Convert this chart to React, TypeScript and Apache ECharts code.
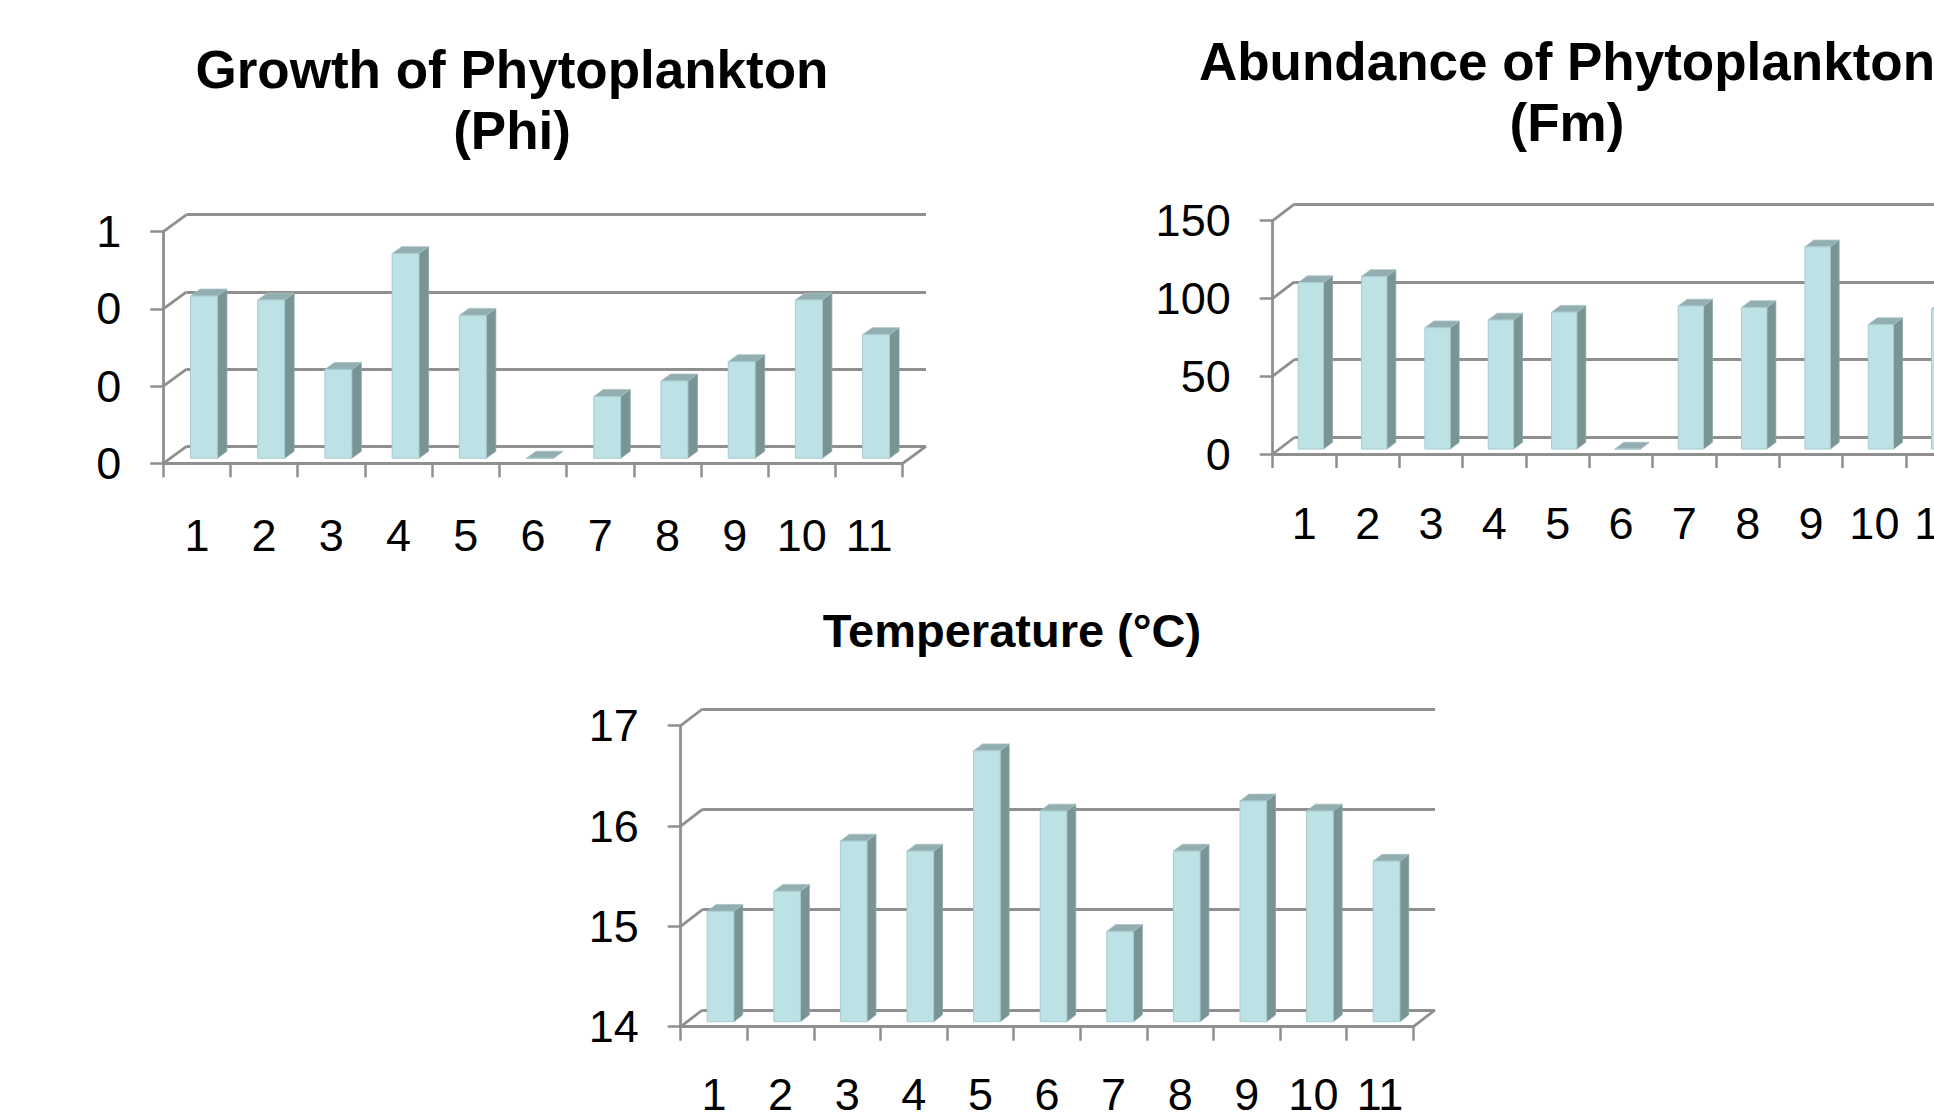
import React, { useEffect, useRef } from "react";
import * as echarts from "echarts";

const categories = ["1", "2", "3", "4", "5", "6", "7", "8", "9", "10", "11"];

const growthValues = [0.42, 0.41, 0.23, 0.53, 0.37, 0, 0.16, 0.2, 0.25, 0.41, 0.32];
const abundanceValues = [107, 111, 78, 83, 88, 0, 92, 91, 130, 80, 90];
const temperatureValues = [15.1, 15.3, 15.8, 15.7, 16.7, 16.1, 14.9, 15.7, 16.2, 16.1, 15.6];

const growthTicks = [0, 0.2, 0.4, 0.6];
const abundanceTicks = [0, 50, 100, 150];
const temperatureTicks = [14, 15, 16, 17];

const growthTitle = "Growth of Phytoplankton\n(Phi)";
const abundanceTitle = "Abundance of Phytoplankton\n(Fm)";
const temperatureTitle = "Temperature (°C)";

const FONT = "'Liberation Sans', Arial, Helvetica, sans-serif";
const GRID_COLOR = "#8f8f8f";
const FRONT = "#bde2e6";
const SIDE = "#7a9496";
const TOP = "#93aeb1";

const CANVAS_W = 2120;
const CANVAS_H = 1117;

type ChartCfg = {
  values: number[];
  ticks: number[];
  title: string;
  titleX: number;
  titleY: number;
  titleSize: number;
  left: number;
  top: number;
  width: number;
  height: number;
  dx: number;
  dy: number;
  labelMargin: number;
  fmt: (v: number) => string;
};

const charts: ChartCfg[] = [
  {
    values: growthValues,
    ticks: growthTicks,
    title: growthTitle,
    titleX: 512,
    titleY: 100,
    titleSize: 53,
    left: 163.3,
    top: 231.7,
    width: 739.4,
    height: 231.6,
    dx: 23.3,
    dy: -17,
    labelMargin: 50,
    fmt: (v: number) => v.toFixed(0),
  },
  {
    values: abundanceValues,
    ticks: abundanceTicks,
    title: abundanceTitle,
    titleX: 1567,
    titleY: 92,
    titleSize: 53,
    left: 1272.7,
    top: 220.7,
    width: 696.7,
    height: 233.3,
    dx: 21.7,
    dy: -16.5,
    labelMargin: 47,
    fmt: (v: number) => String(v),
  },
  {
    values: temperatureValues,
    ticks: temperatureTicks,
    title: temperatureTitle,
    titleX: 1012,
    titleY: 630,
    titleSize: 47,
    left: 680.7,
    top: 725.7,
    width: 732.6,
    height: 301,
    dx: 21.7,
    dy: -16.7,
    labelMargin: 45,
    fmt: (v: number) => String(v),
  },
];

function buildOption() {
  const grid: any[] = [];
  const xAxis: any[] = [];
  const yAxis: any[] = [];
  const series: any[] = [];
  const graphic: any[] = [];

  charts.forEach((c, k) => {
    const min = c.ticks[0];
    const max = c.ticks[c.ticks.length - 1];
    const interval = c.ticks[1] - c.ticks[0];
    const fi = 2 * k;
    const bi = 2 * k + 1;

    grid.push({ left: c.left, top: c.top, width: c.width, height: c.height, containLabel: false });
    grid.push({ left: c.left + c.dx, top: c.top + c.dy, width: c.width, height: c.height, containLabel: false });

    xAxis.push({
      type: "category",
      gridIndex: fi,
      data: categories,
      boundaryGap: true,
      axisLine: { show: true, lineStyle: { color: GRID_COLOR, width: 2.8 } },
      axisTick: { show: true, length: 14, interval: 0, lineStyle: { color: GRID_COLOR, width: 2.5 } },
      axisLabel: { interval: 0, margin: c.labelMargin, fontSize: 45, color: "#000", fontFamily: FONT },
      splitLine: { show: false },
    });
    xAxis.push({ type: "category", gridIndex: bi, data: categories, show: false });

    yAxis.push({
      type: "value",
      gridIndex: fi,
      min,
      max,
      interval,
      axisLine: { show: true, lineStyle: { color: GRID_COLOR, width: 2.8 } },
      axisTick: { show: true, length: 13, lineStyle: { color: GRID_COLOR, width: 2.5 } },
      axisLabel: { margin: 42, fontSize: 45, color: "#000", fontFamily: FONT, formatter: c.fmt },
      splitLine: { show: false },
    });
    yAxis.push({
      type: "value",
      gridIndex: bi,
      min,
      max,
      interval,
      axisLine: { show: false },
      axisTick: { show: false },
      axisLabel: { show: false },
      splitLine: { show: true, lineStyle: { color: GRID_COLOR, width: 2.8 } },
    });

    // left wall diagonals + floor right diagonal
    series.push({
      type: "custom",
      xAxisIndex: fi,
      yAxisIndex: fi,
      silent: true,
      z: 1,
      data: c.ticks.map((t) => [0, t]),
      renderItem: (params: any, api: any) => {
        const cs = params.coordSys;
        const y = api.coord([0, api.value(1)])[1];
        const children: any[] = [
          {
            type: "line",
            shape: { x1: cs.x, y1: y, x2: cs.x + c.dx, y2: y + c.dy },
            style: { stroke: GRID_COLOR, lineWidth: 2.8 },
          },
        ];
        if (params.dataIndex === 0) {
          children.push({
            type: "line",
            shape: { x1: cs.x + cs.width, y1: y, x2: cs.x + cs.width + c.dx, y2: y + c.dy },
            style: { stroke: GRID_COLOR, lineWidth: 2.8 },
          });
        }
        return { type: "group", children };
      },
    });

    // 3D-looking bars
    const f0 = 0.3;
    const f1 = 0.71;
    series.push({
      type: "custom",
      name: c.title.split("\n")[0],
      xAxisIndex: fi,
      yAxisIndex: fi,
      z: 3,
      data: c.values.map((v, i) => [i, v]),
      renderItem: (params: any, api: any) => {
        const i = api.value(0);
        const v = api.value(1);
        const base = api.coord([i, min]);
        const topP = api.coord([i, v]);
        const band = api.size([1, 0])[0];
        const w = band * 0.4;
        const x0 = base[0] - w / 2 + f0 * c.dx;
        const x1 = x0 + w;
        const yb = base[1] + f0 * c.dy;
        const yt = topP[1] + f0 * c.dy;
        const ddx = (f1 - f0) * c.dx;
        const ddy = (f1 - f0) * c.dy;
        return {
          type: "group",
          children: [
            {
              type: "polygon",
              shape: { points: [[x1, yb], [x1, yt], [x1 + ddx, yt + ddy], [x1 + ddx, yb + ddy]] },
              style: { fill: SIDE, stroke: "#8aa3a5", lineWidth: 0.8 },
            },
            {
              type: "polygon",
              shape: { points: [[x0, yt], [x1, yt], [x1 + ddx, yt + ddy], [x0 + ddx, yt + ddy]] },
              style: { fill: TOP, stroke: "#a9c2c4", lineWidth: 0.8 },
            },
            {
              type: "rect",
              shape: { x: x0, y: yt, width: w, height: Math.max(0, yb - yt) },
              style: { fill: FRONT, stroke: "#a6ccd0", lineWidth: 1 },
            },
          ],
        };
      },
    });

    graphic.push({
      type: "text",
      x: c.titleX,
      y: c.titleY,
      style: {
        text: c.title,
        align: "center",
        verticalAlign: "middle",
        fontSize: c.titleSize,
        fontWeight: "bold",
        fontFamily: FONT,
        lineHeight: Math.round(c.titleSize * 1.15),
        fill: "#000",
      },
    });
  });

  return {
    animation: false,
    backgroundColor: "#ffffff",
    grid,
    xAxis,
    yAxis,
    series,
    graphic,
  };
}

export default function App() {
  const ref = useRef<HTMLDivElement>(null);
  useEffect(() => {
    if (!ref.current) return;
    const chart = echarts.init(ref.current, undefined, { renderer: "svg" });
    chart.setOption(buildOption() as any);
    return () => chart.dispose();
  }, []);
  return (
    <div
      style={{
        position: "absolute",
        left: 0,
        top: 0,
        width: 1934,
        height: 1117,
        overflow: "hidden",
        background: "#ffffff",
      }}
    >
      <div ref={ref} style={{ width: CANVAS_W, height: CANVAS_H }} />
    </div>
  );
}
